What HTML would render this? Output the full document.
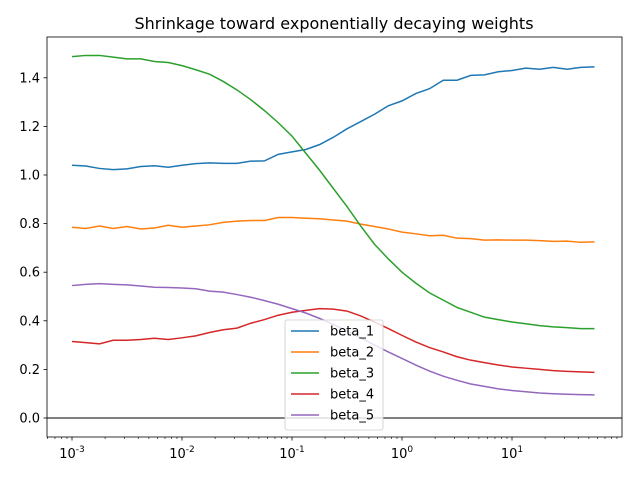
<!DOCTYPE html>
<html><head><meta charset="utf-8"><style>
body{margin:0;background:#fff;}
svg{display:block;font-family:"DejaVu Sans","Liberation Sans",sans-serif;}
</style></head><body>
<svg id="chart" width="640" height="480">
<rect width="640" height="480" fill="#fff"/>
<text x="334" y="29" text-anchor="middle" font-size="16">Shrinkage toward exponentially decaying weights</text>
<g id="plot"></g>
</svg>
<script>
const seriesNames = ["beta_1","beta_2","beta_3","beta_4","beta_5"];
const colors = ["#1f77b4","#ff7f0e","#2ca02c","#d62728","#9467bd"];
const beta1 = [1.04,1.037,1.027,1.022,1.025,1.035,1.038,1.032,1.04,1.047,1.05,1.048,1.048,1.057,1.058,1.085,1.095,1.105,1.125,1.155,1.19,1.22,1.25,1.285,1.305,1.335,1.355,1.39,1.39,1.41,1.412,1.425,1.43,1.44,1.435,1.443,1.435,1.443,1.445];
const beta2 = [0.785,0.78,0.79,0.78,0.788,0.778,0.782,0.793,0.785,0.79,0.795,0.805,0.81,0.813,0.813,0.825,0.825,0.822,0.82,0.815,0.81,0.798,0.788,0.778,0.765,0.758,0.75,0.752,0.74,0.738,0.732,0.733,0.732,0.732,0.73,0.727,0.728,0.723,0.725];
const beta3 = [1.487,1.492,1.492,1.485,1.478,1.478,1.467,1.463,1.45,1.433,1.415,1.385,1.35,1.31,1.265,1.215,1.16,1.09,1.02,0.945,0.87,0.79,0.715,0.655,0.6,0.555,0.515,0.485,0.455,0.435,0.415,0.405,0.395,0.388,0.38,0.375,0.372,0.368,0.368];
const beta4 = [0.315,0.31,0.305,0.32,0.32,0.323,0.328,0.323,0.33,0.338,0.352,0.363,0.37,0.39,0.405,0.423,0.435,0.443,0.45,0.448,0.44,0.42,0.395,0.368,0.34,0.313,0.29,0.272,0.252,0.238,0.228,0.218,0.21,0.205,0.2,0.195,0.192,0.19,0.188];
const beta5 = [0.545,0.55,0.553,0.55,0.548,0.543,0.538,0.537,0.535,0.532,0.522,0.518,0.508,0.497,0.483,0.468,0.45,0.432,0.41,0.385,0.358,0.33,0.3,0.272,0.245,0.218,0.193,0.172,0.155,0.14,0.13,0.12,0.113,0.108,0.103,0.1,0.098,0.096,0.095];
const logLambda = Array.from({length:39},(_, i)=>-3+i*0.125);
const yTicks = [0,0.2,0.4,0.6,0.8,1.0,1.2,1.4];
const xTickExps = [-3,-2,-1,0,1];

const L=47,R=622,T=37,B=437;
const xs = e => 72 + (e+3)*110;
const ys = v => 418 - v*243;
const NS="http://www.w3.org/2000/svg";
const g=document.getElementById('plot');
function mk(tag,attrs,parent){const e=document.createElementNS(NS,tag);for(const k in attrs)e.setAttribute(k,attrs[k]);(parent||g).appendChild(e);return e;}

// y ticks
yTicks.forEach(v=>{
  const y=ys(v);
  const t=mk('line',{x1:L-3.5,x2:L,y1:y,y2:y,stroke:'#000','stroke-width':0.8});
  
  
  const lab=mk('text',{x:L-7,y:y+4.5,'text-anchor':'end','font-size':13});
  lab.textContent=v.toFixed(1);
  
  
});
// x ticks
xTickExps.forEach(e=>{
  const x=xs(e);
  mk('line',{x1:x,x2:x,y1:B,y2:B+3.5,stroke:'#000','stroke-width':0.8});
  const lab=mk('text',{x:x,y:B+21,'text-anchor':'middle','font-size':13});
  lab.innerHTML='10<tspan dy="-6" font-size="9">'+e+'</tspan>';
  
  
});
for(let d=-4; d<=1; d++){for(let m=2;m<=9;m++){const x=xs(d+Math.log10(m)); if(x>L&&x<R) mk('line',{x1:x,x2:x,y1:B,y2:B+2,stroke:'#000','stroke-width':0.6});}}
// zero line
const zl=mk('line',{x1:L,x2:R,y1:ys(0),y2:ys(0),stroke:'#808080','stroke-width':2});


// series
const all=[beta1,beta2,beta3,beta4,beta5];
all.forEach((arr,k)=>{
  const d=arr.map((v,i)=>(i?'L':'M')+xs(logLambda[i]).toFixed(2)+','+ys(v).toFixed(2)).join(' ');
  const p=mk('path',{d:d,fill:'none',stroke:colors[k],'stroke-width':1.5});
  
  
});
// frame
mk('rect',{x:L,y:T,width:R-L,height:B-T,fill:'none',stroke:'#000','stroke-width':0.8});
// legend
const lg=mk('g',{});


mk('rect',{x:285,y:320,width:98,height:110,rx:2,fill:'#fff','fill-opacity':0.8,stroke:'#ccc','stroke-width':0.8},lg);
seriesNames.forEach((n,k)=>{
  const y=331+k*21;
  const le=mk('g',{},lg);
  
  
  mk('line',{x1:291,x2:319,y1:y,y2:y,stroke:colors[k],'stroke-width':1.5},le);
  const t=mk('text',{x:330,y:y+4.5,'font-size':13},le);
  t.textContent=n;
});
</script>
</body></html>
